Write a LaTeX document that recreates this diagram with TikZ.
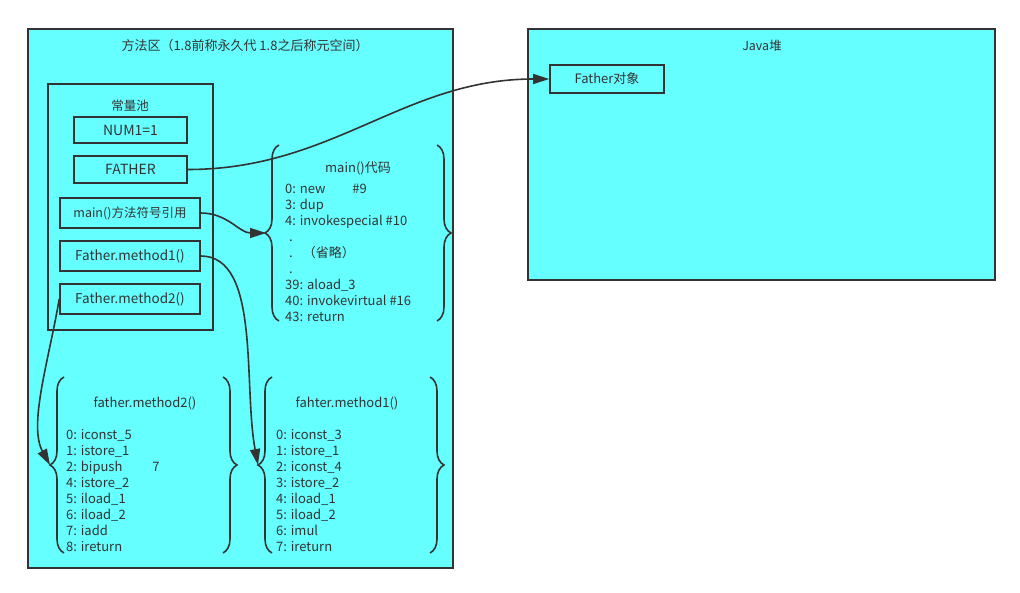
\documentclass[tikz,border=0pt]{standalone}
\usepackage{fontspec}
\setmainfont{Noto Sans CJK SC}
\usetikzlibrary{arrows.meta}
\usetikzlibrary{decorations.pathreplacing}
\definecolor{cyanfill}{HTML}{66FFFF}
\definecolor{ink}{HTML}{333333}

\begin{document}
\begin{tikzpicture}[x=1pt,y=-1pt,
    box/.style={draw=ink,fill=cyanfill,line width=1.6pt,inner sep=0pt,text=ink,font=\fontsize{12.5}{16}\selectfont},
    lbl/.style={text=ink,font=\fontsize{12.5}{16}\selectfont,inner sep=0pt},
    code/.style={lbl,font=\fontsize{13}{16}\selectfont,align=left,anchor=north west},
    brace/.style={draw=ink,line width=1.6pt,decorate,decoration={brace,amplitude=14pt}},
    conn/.style={draw=ink,line width=1.6pt,-{Triangle[length=16pt,width=10pt]}}]
    \useasboundingbox (0,0) rectangle (1020,593);

    %method area
    \node[box,minimum width=425,minimum height=539] (methodArea) at (240.5,298.5) {};
    \node[lbl,font=\fontsize{13}{16}\selectfont] (methodTitle) at (245,46) {方法区（1.8前称永久代 1.8之后称元空间）};

    %constant pool
    \node[box,minimum width=165,minimum height=246] (pool) at (130.5,207) {};
    \node[lbl] (poolTitle) at (130,106) {常量池};
    \node[box,minimum width=113,minimum height=26,font=\fontsize{14}{16}\selectfont] (num) at (130.5,130) {NUM1=1};
    \node[box,minimum width=113,minimum height=27,font=\fontsize{14}{16}\selectfont] (father) at (130.5,169.5) {FATHER};
    \node[box,minimum width=140,minimum height=30] (mainRef) at (130,213) {main()方法符号引用};
    \node[box,minimum width=140,minimum height=30,font=\fontsize{13.5}{16}\selectfont] (m1Ref) at (130,256) {Father.method1()};
    \node[box,minimum width=140,minimum height=30,font=\fontsize{13.5}{16}\selectfont] (m2Ref) at (130,299) {Father.method2()};

    %java heap
    \node[box,minimum width=467,minimum height=251] (heap) at (761.5,154.5) {};
    \node[lbl] (heapTitle) at (762,46) {Java堆};
    \node[box,minimum width=114,minimum height=28,font=\fontsize{13}{16}\selectfont] (fatherObj) at (607,79) {Father对象};

    %main() code
    \draw[brace] (279,321) -- (279,145);
    \draw[brace] (437,145) -- (437,321);
    \coordinate (mainTip) at (266,233);
    \node[lbl,font=\fontsize{13}{16}\selectfont] (mainTitle) at (358,168) {main()代码};
    \node[code] (mainCode) at (285,184) {0: new\hspace{24pt} \#9\\3: dup\\4: invokespecial \#10\\\hspace{4pt}.\\\hspace{4pt}.\hspace{10pt}（省略）\\\hspace{4pt}.\\39: aload\_3\\40: invokevirtual \#16\\43: return};

    %method2 code
    \draw[brace] (64,553) -- (64,377);
    \draw[brace] (223,377) -- (223,553);
    \coordinate (m2Tip) at (50,465);
    \node[lbl,font=\fontsize{13}{16}\selectfont] (m2Title) at (145,403) {father.method2()};
    \node[code] (m2Code) at (66,429) {0: iconst\_5\\1: istore\_1\\2: bipush\hspace{27pt} 7\\4: istore\_2\\5: iload\_1\\6: iload\_2\\7: iadd\\8: ireturn};

    %method1 code
    \draw[brace] (272,553) -- (272,377);
    \draw[brace] (430,377) -- (430,553);
    \coordinate (m1Tip) at (258,465);
    \node[lbl,font=\fontsize{13}{16}\selectfont] (m1Title) at (347,403) {fahter.method1()};
    \node[code] (m1Code) at (276,429) {0: iconst\_3\\1: istore\_1\\2: iconst\_4\\3: istore\_2\\4: iload\_1\\5: iload\_2\\6: imul\\7: ireturn};

    %links
    \draw[conn] (father.east) to[out=0,in=180] (fatherObj.west);
    \draw[conn] (mainRef.east) to[out=0,in=180] (mainTip);
    \draw[conn] (m1Ref.east) .. controls +(60,0) and +(-15,-80) .. (m1Tip);
    \draw[conn] (m2Ref.west) .. controls +(-10,60) and +(-22,-40) .. (m2Tip);
\end{tikzpicture}
\end{document}
